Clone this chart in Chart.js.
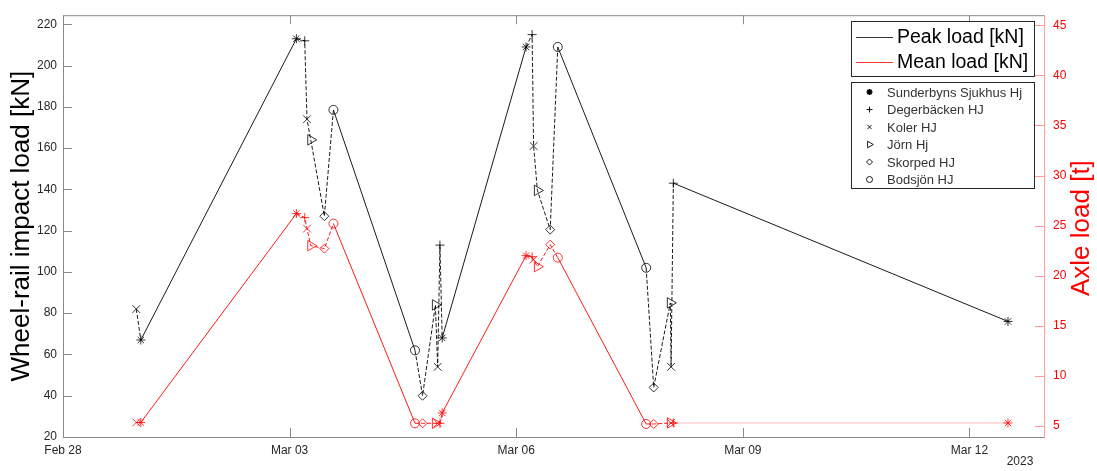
<!DOCTYPE html>
<html>
<head>
<meta charset="utf-8">
<script src="https://cdn.jsdelivr.net/npm/chart.js"></script>
<style>
  body { margin: 0; background: #fff; }
  canvas { display: block; }
</style>
</head>
<body>
<canvas id="loads" width="1097" height="471"></canvas>
<script>
// station names (legend order) and the marker each one uses
const stationNames = ['Sunderbyns Sjukhus Hj', 'Degerbäcken HJ', 'Koler HJ', 'Jörn Hj', 'Skorped HJ', 'Bodsjön HJ'];
const stationMarkers = ['star', 'cross', 'crossRot', 'triangle', 'rectRot', 'circle'];

// one entry per measured passage, days after Feb 28 2023
const passDays = [0.97, 1.03,
  3.09, 3.20, 3.23, 3.28, 3.46, 3.58,
  4.66, 4.76, 4.93, 4.96, 4.99, 5.02,
  6.13, 6.21, 6.23, 6.28, 6.45, 6.55,
  7.72, 7.82, 8.04, 8.05, 8.08,
  12.51];
const passStation = [2, 0,
  0, 1, 2, 3, 4, 5,
  5, 4, 3, 2, 1, 0,
  0, 1, 2, 3, 4, 5,
  5, 4, 3, 2, 1,
  0];
const peakLoad = [82, 67,
  213, 212, 174, 164, 127, 178.5,
  62, 40, 84, 54, 113, 68,
  209, 215, 161, 139.5, 120.5, 209,
  102, 44, 85, 54, 143,
  76];
const meanLoad = [5.35, 5.35,
  26.2, 25.8, 24.7, 23.0, 22.7, 25.2,
  5.27, 5.27, 5.27, 5.27, 5.27, 6.3,
  22.0, 21.9, 21.6, 20.9, 23.1, 21.8,
  5.2, 5.2, 5.3, 5.3, 5.3,
  5.3];

const xTickValues = [0, 3, 6, 9, 12];
const xTickLabels = ['Feb 28', 'Mar 03', 'Mar 06', 'Mar 09', 'Mar 12'];
const leftTickValues = [20, 40, 60, 80, 100, 120, 140, 160, 180, 200, 220];
const rightTickValues = [5, 10, 15, 20, 25, 30, 35, 40, 45];

const FONT = "'Liberation Sans', Arial, Helvetica, sans-serif";
const GREY = '#8a8a8a';
const PINK = '#ff9c9c';
const CLEAR = 'rgba(0,0,0,0)';

function markerOf(ctx) { return stationMarkers[passStation[ctx.dataIndex]]; }
function rotOf(ctx) { return passStation[ctx.dataIndex] === 3 ? 90 : 0; }
function radiusOf(ctx) {
  const s = passStation[ctx.dataIndex];
  return s === 3 ? 6 : s === 2 ? 5.5 : 4.5;
}
// dashed inside one run of stations, solid between runs
function dashOf(ctx) { return ctx.p1.parsed.x - ctx.p0.parsed.x < 0.6 ? [4, 2] : undefined; }

const framePlugin = {
  id: 'frame',
  beforeDatasetsDraw(chart) {
    const {ctx, chartArea: a, scales} = chart;
    ctx.save();
    ctx.lineWidth = 1;
    // box
    ctx.strokeStyle = GREY;
    ctx.beginPath();
    ctx.moveTo(a.right, a.top + 0.5); ctx.lineTo(a.left + 0.5, a.top + 0.5);
    ctx.lineTo(a.left + 0.5, a.bottom + 0.5); ctx.lineTo(a.right, a.bottom + 0.5);
    ctx.stroke();
    // inward ticks: bottom + top
    xTickValues.forEach(v => {
      const px = Math.round(scales.x.getPixelForValue(v)) + 0.5;
      ctx.beginPath();
      ctx.moveTo(px, a.bottom); ctx.lineTo(px, a.bottom - 9);
      ctx.moveTo(px, a.top); ctx.lineTo(px, a.top + 9);
      ctx.stroke();
    });
    // left ticks
    leftTickValues.forEach(v => {
      const py = Math.round(scales.y.getPixelForValue(v)) + 0.5;
      ctx.beginPath(); ctx.moveTo(a.left, py); ctx.lineTo(a.left + 9, py); ctx.stroke();
    });
    // right axis, red
    ctx.strokeStyle = PINK;
    ctx.beginPath(); ctx.moveTo(a.right - 0.5, a.top); ctx.lineTo(a.right - 0.5, a.bottom + 1); ctx.stroke();
    rightTickValues.forEach(v => {
      const py = Math.round(scales.y1.getPixelForValue(v)) + 0.5;
      ctx.beginPath(); ctx.moveTo(a.right, py); ctx.lineTo(a.right - 10, py); ctx.stroke();
    });
    ctx.restore();
  },
  afterDraw(chart) {
    const {ctx, chartArea: a} = chart;
    ctx.save();
    // right axis title, reads bottom to top
    ctx.translate(1082, (a.top + a.bottom) / 2 + 2);
    ctx.rotate(-Math.PI / 2);
    ctx.fillStyle = '#ff0000';
    ctx.font = '26px ' + FONT;
    ctx.textAlign = 'center';
    ctx.textBaseline = 'middle';
    ctx.fillText('Axle load [t]', 0, 0);
    ctx.restore();

    ctx.save();
    ctx.fillStyle = '#262626';
    ctx.font = '12px ' + FONT;
    ctx.textAlign = 'center';
    ctx.textBaseline = 'middle';
    ctx.fillText('2023', 1020, 462);

    // legend 1: series
    ctx.fillStyle = '#fff';
    ctx.fillRect(851, 21, 183, 56);
    ctx.strokeStyle = '#262626';
    ctx.lineWidth = 1;
    ctx.strokeRect(851.5, 21.5, 183, 55);
    ctx.font = '19.5px ' + FONT;
    ctx.textAlign = 'left';
    [['Peak load [kN]', '#000', 37], ['Mean load [kN]', '#ff0000', 62]].forEach(([txt, col, y]) => {
      ctx.strokeStyle = col;
      ctx.lineWidth = 0.8;
      ctx.beginPath(); ctx.moveTo(856, y + 0.5); ctx.lineTo(893, y + 0.5); ctx.stroke();
      ctx.fillStyle = '#000';
      ctx.fillText(txt, 897, y + 1);
    });

    // legend 2: stations
    ctx.fillStyle = '#fff';
    ctx.fillRect(851, 82, 183, 107);
    ctx.strokeStyle = '#262626';
    ctx.lineWidth = 1;
    ctx.strokeRect(851.5, 82.5, 183, 106);
    ctx.font = '13px ' + FONT;
    stationNames.forEach((name, i) => {
      const y = 92 + i * 17.5;
      ctx.strokeStyle = '#000';
      ctx.fillStyle = CLEAR;
      ctx.lineWidth = i === 0 ? 1.6 : 0.9;
      Chart.helpers.drawPoint(ctx, {pointStyle: stationMarkers[i], radius: i === 3 ? 3.8 : 3, rotation: i === 3 ? 90 : 0, borderWidth: ctx.lineWidth}, 869.5, y);
      ctx.fillStyle = '#333';
      ctx.fillText(name, 887, y + 1);
    });
    ctx.restore();
  }
};

function seriesPoints(values) {
  return passDays.map((d, i) => ({x: d, y: values[i]}));
}

new Chart(document.getElementById('loads'), {
  type: 'line',
  data: {
    datasets: [{
      label: 'Peak load [kN]',
      data: seriesPoints(peakLoad),
      yAxisID: 'y',
      borderColor: '#000',
      borderWidth: 0.9,
      pointStyle: markerOf,
      pointRotation: rotOf,
      pointRadius: radiusOf,
      pointBorderColor: '#000',
      pointBackgroundColor: CLEAR,
      pointBorderWidth: 0.8,
      segment: { borderDash: dashOf },
      tension: 0
    }, {
      label: 'Mean load [kN]',
      data: seriesPoints(meanLoad),
      yAxisID: 'y1',
      borderColor: '#ff0000',
      borderWidth: 0.9,
      pointStyle: markerOf,
      pointRotation: rotOf,
      pointRadius: radiusOf,
      pointBorderColor: '#ff0000',
      pointBackgroundColor: CLEAR,
      pointBorderWidth: 0.8,
      segment: {
        borderDash: dashOf,
        borderColor: ctx => ctx.p1.parsed.x - ctx.p0.parsed.x > 3 ? 'rgba(255,0,0,0.3)' : undefined
      },
      tension: 0
    }]
  },
  options: {
    responsive: false,
    animation: false,
    devicePixelRatio: 1,
    layout: { padding: { top: 13, left: 0, right: 0, bottom: 0 } },
    plugins: { legend: { display: false }, tooltip: { enabled: false } },
    scales: {
      x: {
        type: 'linear',
        min: 0,
        max: 13,
        afterBuildTicks: s => { s.ticks = xTickValues.map(v => ({value: v})); },
        afterFit: s => { s.height = 34; },
        grid: { display: false, drawTicks: false },
        border: { display: false },
        ticks: {
          padding: 6,
          color: '#262626',
          font: { family: FONT, size: 12 },
          maxRotation: 0,
          callback: v => xTickLabels[xTickValues.indexOf(v)]
        }
      },
      y: {
        position: 'left',
        min: 20,
        max: 224.4,
        afterBuildTicks: s => { s.ticks = leftTickValues.map(v => ({value: v})); },
        afterFit: s => { s.width = 63; },
        grid: { display: false, drawTicks: false },
        border: { display: false },
        ticks: { padding: 6, color: '#262626', font: { family: FONT, size: 12 } },
        title: {
          display: true,
          text: 'Wheel-rail impact load [kN]',
          color: '#000',
          font: { family: FONT, size: 26 },
          padding: { top: 6, bottom: 0 }
        }
      },
      y1: {
        position: 'right',
        min: 3.9,
        max: 46,
        afterBuildTicks: s => { s.ticks = rightTickValues.map(v => ({value: v})); },
        afterFit: s => { s.width = 52; },
        grid: { display: false, drawTicks: false },
        border: { display: false },
        ticks: { padding: 8, color: '#ff0000', font: { family: FONT, size: 12 } }
      }
    }
  },
  plugins: [framePlugin]
});
</script>
</body>
</html>
